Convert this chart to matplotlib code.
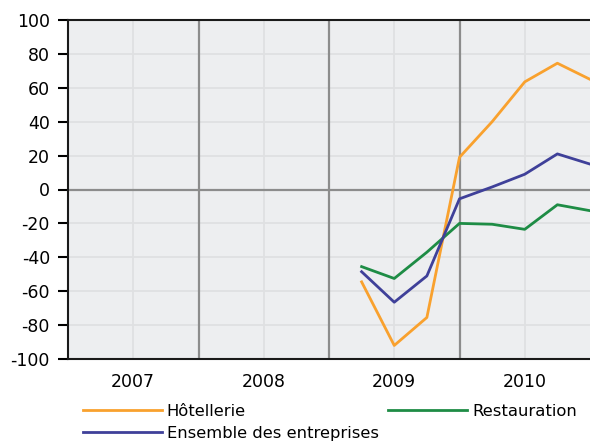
import matplotlib
matplotlib.use("Agg")
import matplotlib.pyplot as plt

plt.rcParams['axes.unicode_minus'] = False
plt.rcParams['font.family'] = ['DejaVu Sans']

# trimestres (position en annee)
quarters = [2009.25, 2009.5, 2009.75, 2010.0, 2010.25, 2010.5, 2010.75, 2011.0]
hotellerie = [-54.5, -92, -75.5, 19, 40, 63.5, 74.5, 65]
restauration = [-45.5, -52.5, -37, -20, -20.5, -23.5, -9, -12.5]
ensemble = [-48.5, -66.5, -51, -5.5, 1.5, 9, 21, 15]

years = ["2007", "2008", "2009", "2010"]
year_pos = [2007.5, 2008.5, 2009.5, 2010.5]
yticks = list(range(-100, 101, 20))

fig = plt.figure(figsize=(5.9, 4.41), dpi=100)
ax = fig.add_axes([68/590, 1-359/441, 1-68/590, (359-20)/441])
ax.set_facecolor('#edeef0')

ax.set_xlim(2007, 2011)
ax.set_ylim(-100, 100)
ax.set_yticks(yticks)
ax.set_xticks(year_pos)
ax.set_xticklabels(years)
ax.grid(True, color='#dfe0e2', linewidth=1.3, zorder=0)
ax.set_axisbelow(True)

for b in [2008, 2009, 2010]:
    ax.axvline(b, color='#8c8c8c', linewidth=1.6, zorder=1)
ax.axhline(0, color='#8c8c8c', linewidth=1.6, zorder=1)

l1, = ax.plot(quarters, hotellerie, color='#f9a12e', linewidth=2.0, label='Hôtellerie', zorder=3)
l2, = ax.plot(quarters, restauration, color='#1e8c45', linewidth=2.0, label='Restauration', zorder=3)
l3, = ax.plot(quarters, ensemble, color='#3f4099', linewidth=2.0, label='Ensemble des entreprises', zorder=3)

ax.tick_params(axis='x', length=0, pad=10, labelsize=12.5)
ax.tick_params(axis='y', length=7, width=1.5, pad=6, labelsize=12.5)
for s in ['left', 'bottom', 'top']:
    ax.spines[s].set_linewidth(1.5)
    ax.spines[s].set_color('#1a1a1a')
ax.spines['right'].set_visible(False)

fig.legend([l1, l3, l2], ['Hôtellerie', 'Ensemble des entreprises', 'Restauration'],
           ncol=2, loc='upper left', bbox_to_anchor=(83/590, 1-404/441), frameon=False,
           fontsize=11.8, handlelength=4.8, handletextpad=0.3, columnspacing=0.6,
           labelspacing=0.42, borderpad=0, borderaxespad=0)

fig.savefig('out.png', dpi=100)
